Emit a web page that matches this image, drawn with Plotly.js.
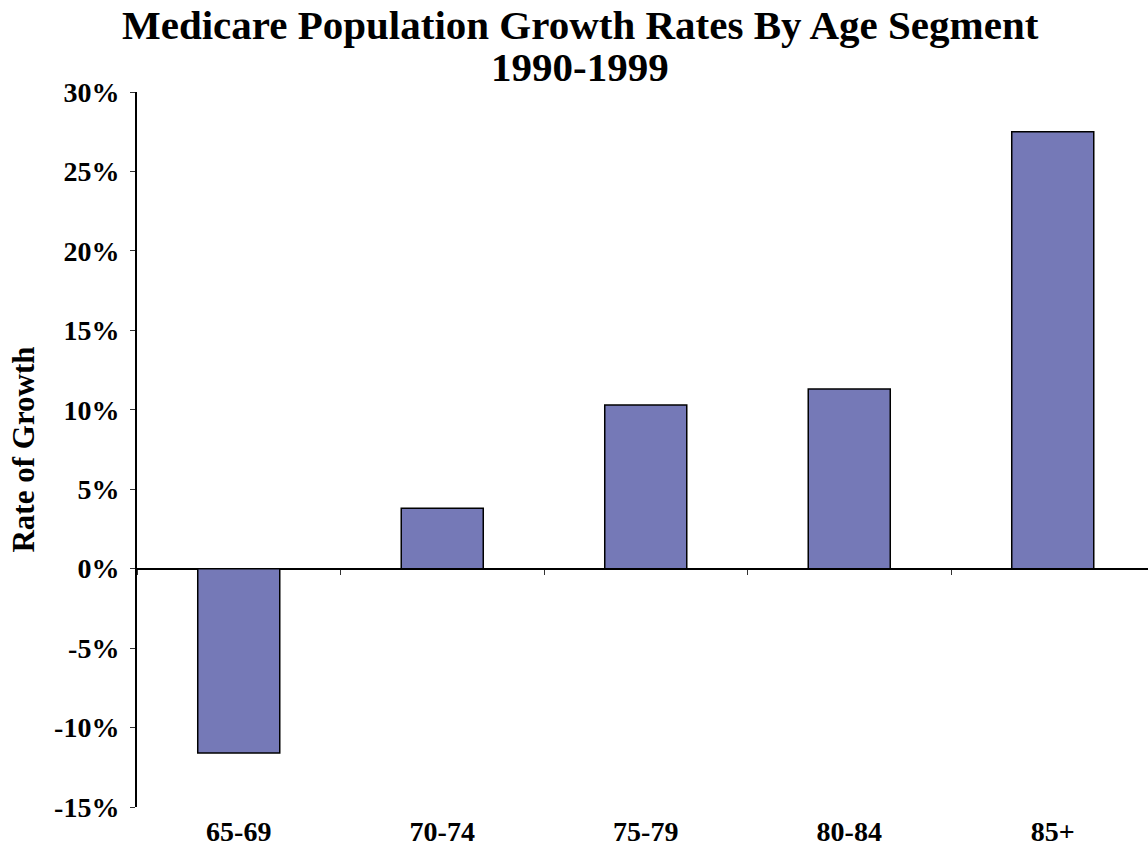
<!DOCTYPE html>
<html>
<head>
<meta charset="utf-8">
<script src="https://cdn.plot.ly/plotly-3.0.1.min.js"></script>
<style>html,body{margin:0;padding:0;background:#fff;overflow:hidden}</style>
</head>
<body>
<div id="chart" style="width:1148px;height:848px"></div>
<script>
const categories = ["65-69", "70-74", "75-79", "80-84", "85+"];
const growthRates = [-11.6, 3.8, 10.3, 11.3, 27.5];
const titleLine1 = "Medicare Population Growth Rates By Age Segment";
const titleLine2 = "1990-1999";
const yTitle = "Rate of Growth";
const yTickVals = [-15, -10, -5, 0, 5, 10, 15, 20, 25, 30];
const yTickText = ["-15%", "-10%", "-5%", "0%", "5%", "10%", "15%", "20%", "25%", "30%"];

const serif = "Liberation Serif, Times New Roman, serif";
const W = 1148, H = 848;
const mL = 137, mR = 0, mT = 92, mB = 41;
const plotW = W - mL - mR;
const band = 203.5;
const xRange = [-0.5, -0.5 + plotW / band];
const yRange = [-15, 30];

const traces = [
  {
    type: "bar",
    x: categories,
    y: growthRates,
    marker: {color: "#7579b7", line: {color: "#000000", width: 1.5}},
    hoverinfo: "x+y",
    showlegend: false
  },
  {
    type: "scatter",
    mode: "markers",
    x: categories,
    y: growthRates,
    xaxis: "x2",
    marker: {opacity: 0},
    hoverinfo: "skip",
    showlegend: false
  }
];

const layout = {
  width: W, height: H,
  margin: {l: mL, r: mR, t: mT, b: mB, pad: 0},
  paper_bgcolor: "#ffffff",
  plot_bgcolor: "#ffffff",
  bargap: 0.597,
  showlegend: false,
  font: {family: serif, color: "#000000"},
  xaxis: {
    type: "category",
    categoryorder: "array",
    categoryarray: categories,
    range: xRange,
    showline: false,
    showgrid: false,
    zeroline: false,
    ticks: "",
    tickfont: {family: serif, size: 28, weight: "bold", color: "#000"},
    ticklabelstandoff: 5
  },
  xaxis2: {
    type: "category",
    categoryorder: "array",
    categoryarray: categories,
    overlaying: "x",
    anchor: "free",
    position: (0 - yRange[0]) / (yRange[1] - yRange[0]),
    range: xRange,
    tickson: "boundaries",
    ticks: "outside",
    ticklen: 5,
    tickwidth: 1,
    tickcolor: "#333",
    showticklabels: false,
    showline: false,
    showgrid: false,
    zeroline: false
  },
  yaxis: {
    range: yRange,
    tickmode: "array",
    tickvals: yTickVals,
    ticktext: yTickText,
    showgrid: false,
    showline: true,
    linecolor: "#000",
    linewidth: 2,
    ticks: "outside",
    ticklen: 5,
    tickwidth: 1,
    tickcolor: "#333",
    zeroline: true,
    zerolinecolor: "#000",
    zerolinewidth: 2,
    ticklabelstandoff: 5,
    tickfont: {family: serif, size: 28, weight: "bold", color: "#000"},
    title: {text: yTitle, font: {family: serif, size: 31, weight: "bold", color: "#000"}, standoff: 10}
  },
  annotations: [
    {
      text: titleLine1, xref: "paper", yref: "paper",
      x: (580 - mL) / plotW, y: 1 + (92 - 24.5) / 715,
      xanchor: "center", yanchor: "middle", showarrow: false,
      font: {family: serif, size: 41, weight: "bold", color: "#000"}
    },
    {
      text: titleLine2, xref: "paper", yref: "paper",
      x: (580 - mL) / plotW, y: 1 + (92 - 66.5) / 715,
      xanchor: "center", yanchor: "middle", showarrow: false,
      font: {family: serif, size: 41, weight: "bold", color: "#000"}
    }
  ]
};

Plotly.newPlot("chart", traces, layout, {displayModeBar: false, staticPlot: true});
</script>
</body>
</html>
